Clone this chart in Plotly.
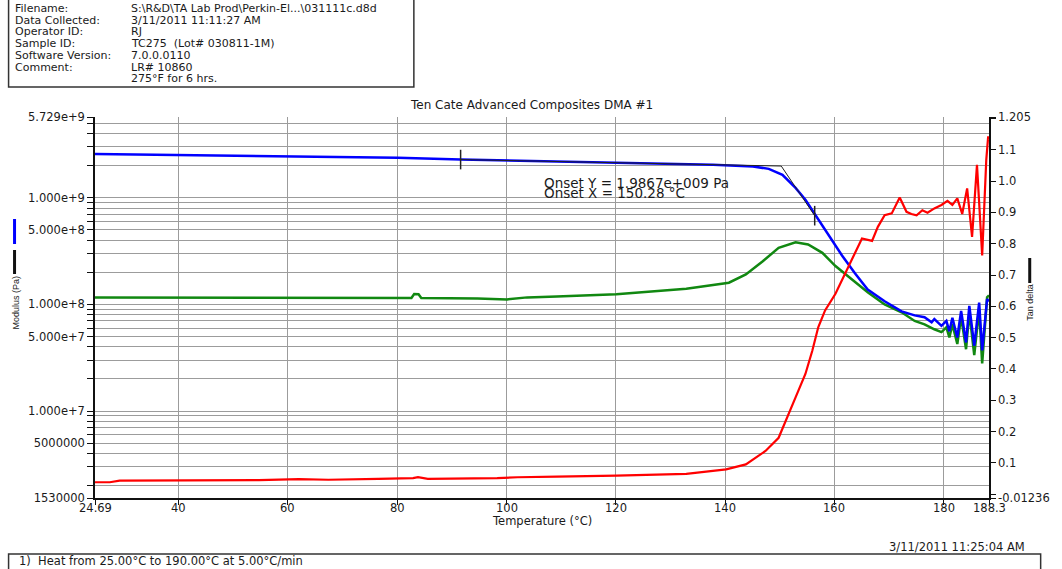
import math
import plotly.graph_objects as go

# ---- DMA scan: storage modulus E' (blue), loss modulus E'' (green), tan delta (red)
temp_storage = [24.69, 32.9, 42.9, 55.6, 67.4, 80.1, 91.6, 105.6, 119.6, 137.8,
                145.1, 148.0, 150.5, 152.9, 154.7, 156.5, 158.9, 161.4, 163.8, 166.1,
                169.2, 172.3, 174.7, 176.5, 177.8, 178.3, 179.6, 180.5, 181.05, 181.6,
                182.5, 183.2, 184.1, 184.7, 185.6, 186.5, 187.05, 187.95, 188.3]
storage_mod = [2.58e9, 2.55e9, 2.51e9, 2.48e9, 2.42e9, 2.37e9, 2.29e9, 2.22e9, 2.14e9, 2.04e9,
               1.97e9, 1.87e9, 1.64e9, 1.24e9, 9.6e8, 6.95e8, 4.42e8, 2.88e8, 1.95e8, 1.38e8,
               1.07e8, 8.6e7, 7.9e7, 7.6e7, 6.8e7, 7.3e7, 6.3e7, 7.0e7, 5.6e7, 7.5e7,
               4.9e7, 8.7e7, 4.4e7, 9.7e7, 4.1e7, 1.04e8, 3.7e7, 1.12e8, 1.07e8]

temp_loss = [24.69, 34.7, 52.9, 67.4, 82.6, 83.1, 83.9, 84.4, 94.7, 100.1,
             103.8, 109.2, 120.1, 132.9, 140.7, 143.8, 146.9, 149.8, 152.9, 155.2,
             157.8, 160.2, 163.2, 166.1, 169.2, 172.3, 174.7, 176.5, 178.3, 179.6,
             180.5, 181.05, 181.6, 182.5, 183.2, 184.1, 184.7, 185.6, 186.5, 187.05,
             187.95, 188.3]
loss_mod = [1.165e8, 1.165e8, 1.15e8, 1.165e8, 1.15e8, 1.25e8, 1.245e8, 1.15e8, 1.14e8, 1.115e8,
            1.165e8, 1.19e8, 1.245e8, 1.405e8, 1.6e8, 1.91e8, 2.54e8, 3.4e8, 3.83e8, 3.65e8,
            3.05e8, 2.29e8, 1.72e8, 1.3e8, 1.0e8, 8.45e7, 7.0e7, 6.5e7, 5.85e7, 5.5e7,
            6.1e7, 4.9e7, 6.5e7, 4.25e7, 7.6e7, 3.8e7, 8.45e7, 3.35e7, 9.0e7, 2.8e7,
            1.165e8, 1.22e8]

temp_tan = [24.69, 27.4, 29.2, 43.8, 54.7, 62.0, 67.4, 76.5, 82.9, 83.8,
            85.6, 98.3, 102.0, 109.2, 120.1, 132.9, 140.2, 143.8, 147.4, 149.8,
            151.05, 152.9, 154.7, 155.96, 157.05, 158.3, 160.2, 161.96, 163.8, 165.05,
            166.9, 167.96, 169.2, 170.5, 171.96, 173.2, 174.1, 175.05, 176.1, 177.05,
            178.3, 179.6, 180.7, 181.6, 182.5, 183.4, 184.3, 185.2, 186.1, 187.05,
            187.8, 188.15, 188.3]
tan_delta = [0.038, 0.038, 0.043, 0.0445, 0.0445, 0.048, 0.046, 0.049, 0.051, 0.054,
             0.049, 0.051, 0.054, 0.056, 0.059, 0.065, 0.079, 0.095, 0.138, 0.180,
             0.234, 0.309, 0.384, 0.458, 0.533, 0.587, 0.640, 0.704, 0.769, 0.817,
             0.809, 0.854, 0.891, 0.897, 0.948, 0.902, 0.895, 0.891, 0.907, 0.899,
             0.913, 0.924, 0.937, 0.924, 0.945, 0.895, 0.977, 0.822, 1.052, 0.763,
             1.068, 1.143, 1.132]

# ---- onset construction (two tangents on E')
onset_T = 150.28
onset_E = 1.9867e9
tangent1_T = [91.6, onset_T]
tangent1_E = [2.285e9, onset_E]
tangent2_T = [onset_T, 156.4]
tangent2_E = [onset_E, 6.8e8]

# ---- axes
x_min, x_max = 24.69, 188.3
x_ticks = [24.69, 40, 60, 80, 100, 120, 140, 160, 180, 188.3]
x_ticklabels = ["24.69", "40", "60", "80", "100", "120", "140", "160", "180", "188.3"]

mod_min, mod_max = 1.53e6, 5.729e9
mod_labels = {1.53e6: "1530000", 5e6: "5000000", 1e7: "1.000e+7", 5e7: "5.000e+7",
              1e8: "1.000e+8", 5e8: "5.000e+8", 1e9: "1.000e+9", 5.729e9: "5.729e+9"}

tan_min, tan_max = -0.01236, 1.205
tan_ticks = [-0.01236, 0.0, 0.1, 0.2, 0.3, 0.4, 0.5, 0.6, 0.7, 0.8, 0.9, 1.0, 1.1, 1.2, 1.205]
tan_ticklabels = ["-0.01236", "", "0.1", "0.2", "0.3", "0.4", "0.5", "0.6", "0.7", "0.8",
                  "0.9", "1.0", "1.1", "", "1.205"]

header_keys = ["Filename:", "Data Collected:", "Operator ID:", "Sample ID:",
               "Software Version:", "Comment:", ""]
header_vals = ["S:\\R&D\\TA Lab Prod\\Perkin-El...\\031111c.d8d", "3/11/2011 11:11:27 AM",
               "RJ", "TC275  (Lot# 030811-1M)", "7.0.0.0110", "LR# 10860",
               "275°F for 6 hrs."]

FONT = "DejaVu Sans, Verdana, sans-serif"
FONT_NARROW = "Liberation Sans, Arial, sans-serif"
INK = "#1a1a1a"
GRID = "#9c9c9c"

# minor log ticks (2..9 per decade) plus the range ends
mod_ticks = [mod_min]
for d in range(6, 10):
    for m in range(1, 10):
        v = m * 10 ** d
        if mod_min < v < mod_max:
            mod_ticks.append(v)
mod_ticks.append(mod_max)
mod_ticktext = [mod_labels.get(v, "") for v in mod_ticks]

# plot-area box in pixels, used to place page furniture
W, H = 1062, 569
L, R, T, B = 95, 995, 117, 498


def px(x, y):
    return (x - L) / (R - L), (B - y) / (B - T)


fig = go.Figure()

fig.add_trace(go.Scatter(x=temp_loss, y=loss_mod, mode="lines",
                         line=dict(color="#118811", width=2.5), yaxis="y"))
fig.add_trace(go.Scatter(x=temp_storage, y=storage_mod, mode="lines",
                         line=dict(color="#0000ff", width=2.5), yaxis="y"))
fig.add_trace(go.Scatter(x=temp_tan, y=tan_delta, mode="lines",
                         line=dict(color="#ff0000", width=2.2), yaxis="y2"))
fig.add_trace(go.Scatter(x=tangent1_T, y=tangent1_E, mode="lines",
                         line=dict(color="#222222", width=1), yaxis="y"))
fig.add_trace(go.Scatter(x=tangent2_T, y=tangent2_E, mode="lines",
                         line=dict(color="#222222", width=1), yaxis="y"))
fig.add_trace(go.Scatter(x=[tangent1_T[0], tangent2_T[1]], y=[tangent1_E[0], tangent2_E[1]],
                         mode="markers", yaxis="y",
                         marker=dict(symbol="line-ns-open", size=14, color="#222222",
                                     line=dict(color="#222222", width=1.5))))

annotations = []


def text(x, y, s, size=12, xanchor="left", angle=0, yanchor="middle", family=FONT):
    ax, ay = px(x, y)
    annotations.append(dict(x=ax, y=ay, xref="paper", yref="paper", text=s,
                            showarrow=False, xanchor=xanchor, yanchor=yanchor,
                            textangle=angle, borderpad=0,
                            font=dict(family=family, size=size, color=INK)))


# header block
row_y = [8.5, 20.2, 31.9, 43.6, 55.3, 67, 78.7]
for k, v, yy in zip(header_keys, header_vals, row_y):
    if k:
        text(13, yy, k, size=11)
    text(130, yy, v, size=11)

text(534, 105, "Ten Cate Advanced Composites DMA #1", size=12, xanchor="center")
text(545, 521, "Temperature (°C)", size=11.5, xanchor="center")
text(15, 303, "Modulus (Pa)", size=9, xanchor="center", angle=-90, family=FONT_NARROW)
text(1036, 302, "Tan delta", size=9, xanchor="center", angle=-90, family=FONT_NARROW)
text(1032, 547, "3/11/2011 11:25:04 AM", size=11.5, xanchor="right")
text(17, 561, "1)  Heat from 25.00°C to 190.00°C at 5.00°C/min", size=11.5)

# temperature tick labels, set just under the axis
for tv, tl in zip(x_ticks, x_ticklabels):
    annotations.append(dict(x=tv, y=(B - 508) / (B - T), xref="x", yref="paper", text=tl,
                            showarrow=False, xanchor="center", yanchor="middle", borderpad=0,
                            font=dict(family=FONT, size=11.5, color=INK)))

# onset read-out
exp = int(math.floor(math.log10(onset_E)))
mant = onset_E / 10 ** exp
text(546, 183, f"Onset Y = {mant:.4f}e+{exp:03d} Pa", size=13.5)
text(546, 193, f"Onset X = {onset_T:.2f} °C", size=13.5)

shapes = []


def pline(x0, y0, x1, y1, color, width):
    a0, b0 = px(x0, y0)
    a1, b1 = px(x1, y1)
    shapes.append(dict(type="line", xref="paper", yref="paper", x0=a0, y0=b0, x1=a1, y1=b1,
                       line=dict(color=color, width=width)))


def pbox(x0, y0, x1, y1):
    a0, b0 = px(x0, y0)
    a1, b1 = px(x1, y1)
    shapes.append(dict(type="rect", xref="paper", yref="paper", x0=a0, y0=b0, x1=a1, y1=b1,
                       line=dict(color="#333333", width=1.5), fillcolor="rgba(0,0,0,0)"))


pbox(8, -2, 416, 87)
pbox(8, 554, 1047, 575)
pline(14, 219, 14, 244, "#0000ff", 3)
pline(14, 250, 14, 274, "#111111", 3)
pline(1036, 258, 1036, 283, "#111111", 3)

fig.update_layout(
    width=W, height=H, autosize=False,
    margin=dict(l=L, r=W - R, t=T, b=H - B, pad=0),
    paper_bgcolor="white", plot_bgcolor="white",
    showlegend=False,
    font=dict(family=FONT, size=11.5, color=INK),
    xaxis=dict(range=[x_min, x_max], tickvals=x_ticks, showticklabels=False,
               showgrid=True, gridcolor=GRID, gridwidth=1.2, zeroline=False,
               showline=True, linecolor="#111111", linewidth=1.5,
               ticks="outside", ticklen=5, tickcolor="#111111"),
    yaxis=dict(type="log", range=[math.log10(mod_min), math.log10(mod_max)],
               tickvals=mod_ticks, ticktext=mod_ticktext,
               showgrid=True, gridcolor=GRID, gridwidth=1, zeroline=False,
               showline=True, linecolor="#111111", linewidth=1.5,
               ticks="outside", ticklen=6, tickcolor="#111111",
               tickfont=dict(size=11.5)),
    yaxis2=dict(range=[tan_min, tan_max], overlaying="y", side="right",
                tickvals=tan_ticks, ticktext=tan_ticklabels,
                showgrid=False, zeroline=False,
                showline=True, linecolor="#111111", linewidth=1.5,
                ticks="outside", ticklen=5, tickcolor="#111111",
                tickfont=dict(size=11.5)),
    annotations=annotations,
    shapes=shapes,
)

fig.write_html("out.html")
